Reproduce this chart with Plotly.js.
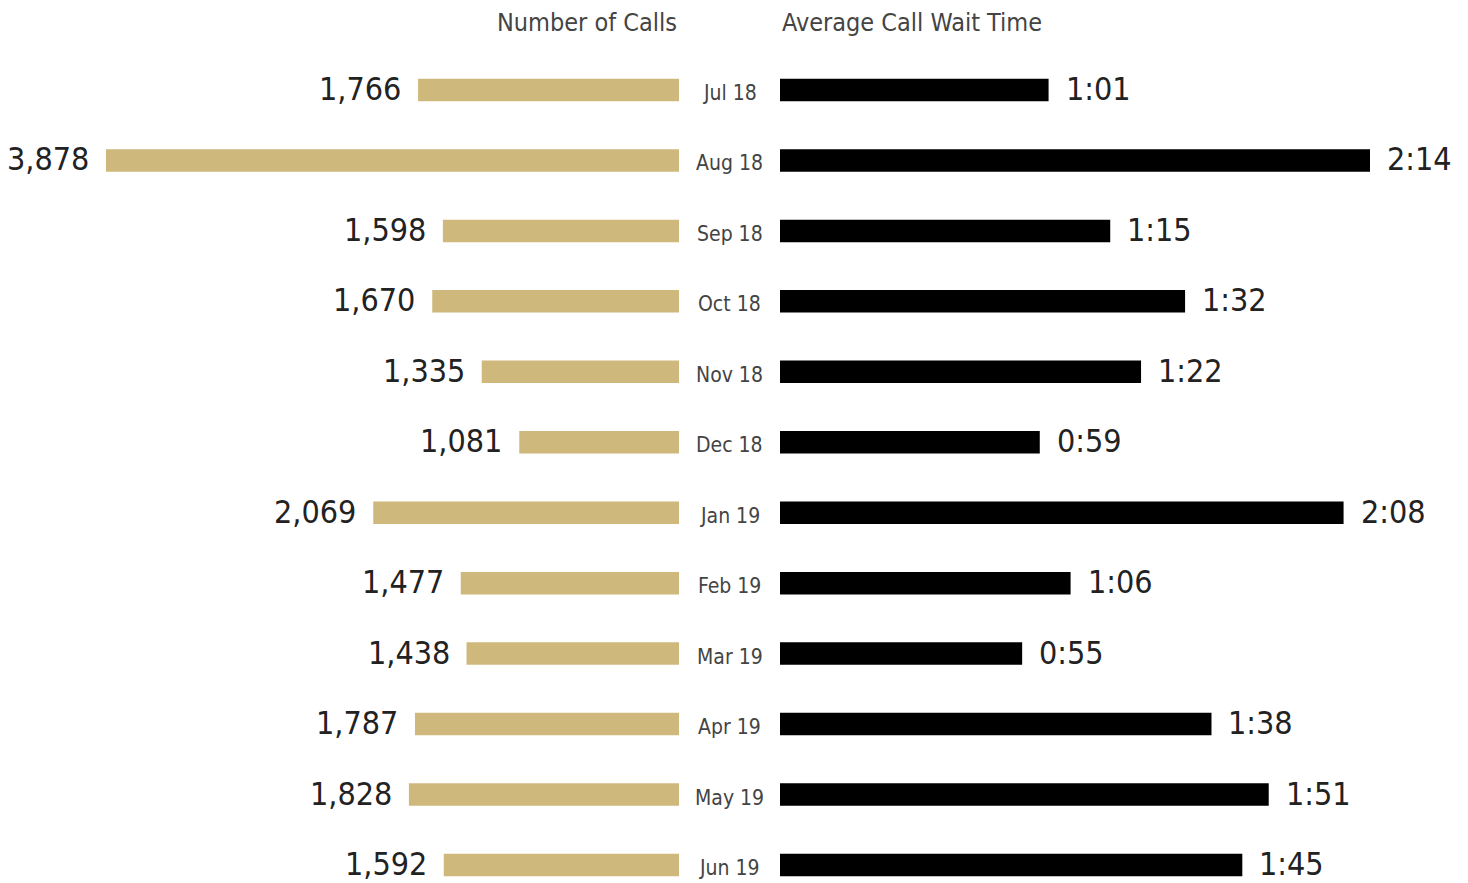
<!DOCTYPE html>
<html>
<head>
<meta charset="utf-8">
<script src="https://cdn.plot.ly/plotly-3.0.1.min.js"></script>
<style>
  html, body { margin: 0; padding: 0; background: #fff; }
  #chart { width: 1468px; height: 883px; }
</style>
</head>
<body>
<div id="chart"></div>
<script>
// Monthly call-centre figures, July 2018 to June 2019
const months = ['Jul 18','Aug 18','Sep 18','Oct 18','Nov 18','Dec 18',
                'Jan 19','Feb 19','Mar 19','Apr 19','May 19','Jun 19'];
const callCounts = [1766, 3878, 1598, 1670, 1335, 1081, 2069, 1477, 1438, 1787, 1828, 1592];
// Average wait, in seconds
const waitSeconds = [61, 134, 75, 92, 82, 59, 128, 66, 55, 98, 111, 105];

const leftTitle = 'Number of Calls';
const rightTitle = 'Average Call Wait Time';

const GOLD = '#CFB87C';
const FONT = '"DejaVu Sans Condensed", "Liberation Sans Narrow", Arial, sans-serif';
const W = 1468, H = 883;

const fmtCount = v => v.toLocaleString('en-US');
const fmtWait = s => Math.floor(s / 60) + ':' + String(s % 60).padStart(2, '0');

// Layout geometry (pixels)
const leftZero = 679, rightZero = 780;
const leftScale = 0.14776;   // px per call
const rightScale = 4.403;    // px per second
const rowTop = 90, rowStep = 70.45;

const traces = [
  {
    type: 'bar', orientation: 'h',
    y: months, x: callCounts,
    xaxis: 'x', yaxis: 'y',
    marker: { color: GOLD },
    width: 0.32,
    hoverinfo: 'skip'
  },
  {
    type: 'bar', orientation: 'h',
    y: months, x: waitSeconds,
    xaxis: 'x2', yaxis: 'y2',
    marker: { color: '#000' },
    width: 0.32,
    hoverinfo: 'skip'
  }
];

const annotations = [];
months.forEach((m, i) => {
  annotations.push({
    xref: 'x', yref: 'y', x: callCounts[i], y: m,
    text: fmtCount(callCounts[i]), showarrow: false,
    xanchor: 'right', yanchor: 'middle', xshift: -15, yshift: 1,
    font: { family: FONT, size: 32, color: '#222' }
  });
  annotations.push({
    xref: 'x2', yref: 'y2', x: waitSeconds[i], y: m,
    text: fmtWait(waitSeconds[i]), showarrow: false,
    xanchor: 'left', yanchor: 'middle', xshift: 15, yshift: 1,
    font: { family: FONT, size: 32, color: '#222' }
  });
  annotations.push({
    xref: 'paper', yref: 'y', x: (leftZero + rightZero) / 2 / W, y: m,
    text: m, showarrow: false,
    xanchor: 'center', yanchor: 'middle', yshift: -3,
    font: { family: FONT, size: 21, color: '#444' }
  });
});
annotations.push({
  xref: 'paper', yref: 'paper', x: leftZero / W, y: 1 - 22 / H,
  text: leftTitle, showarrow: false, xanchor: 'right', yanchor: 'middle',
  font: { family: FONT, size: 25, color: '#444' }
});
annotations.push({
  xref: 'paper', yref: 'paper', x: rightZero / W, y: 1 - 22 / H,
  text: rightTitle, showarrow: false, xanchor: 'left', yanchor: 'middle',
  font: { family: FONT, size: 25, color: '#444' }
});

const yRange = [(H - rowTop) / rowStep, -rowTop / rowStep];
const hiddenY = {
  type: 'category', categoryorder: 'array', categoryarray: months,
  range: yRange, showticklabels: false, showgrid: false, zeroline: false,
  showline: false, ticks: '', fixedrange: true
};

const layout = {
  width: W, height: H,
  margin: { l: 0, r: 0, t: 0, b: 0, pad: 0 },
  paper_bgcolor: '#fff', plot_bgcolor: 'rgba(0,0,0,0)',
  showlegend: false,
  xaxis: {
    domain: [0, leftZero / W], range: [leftZero / leftScale, 0],
    visible: false, fixedrange: true
  },
  xaxis2: {
    domain: [rightZero / W, 1], range: [0, (W - rightZero) / rightScale],
    visible: false, fixedrange: true
  },
  yaxis: Object.assign({ anchor: 'x' }, hiddenY),
  yaxis2: Object.assign({ anchor: 'x2' }, hiddenY),
  annotations: annotations
};

Plotly.newPlot('chart', traces, layout, { staticPlot: true, displayModeBar: false });
</script>
</body>
</html>
